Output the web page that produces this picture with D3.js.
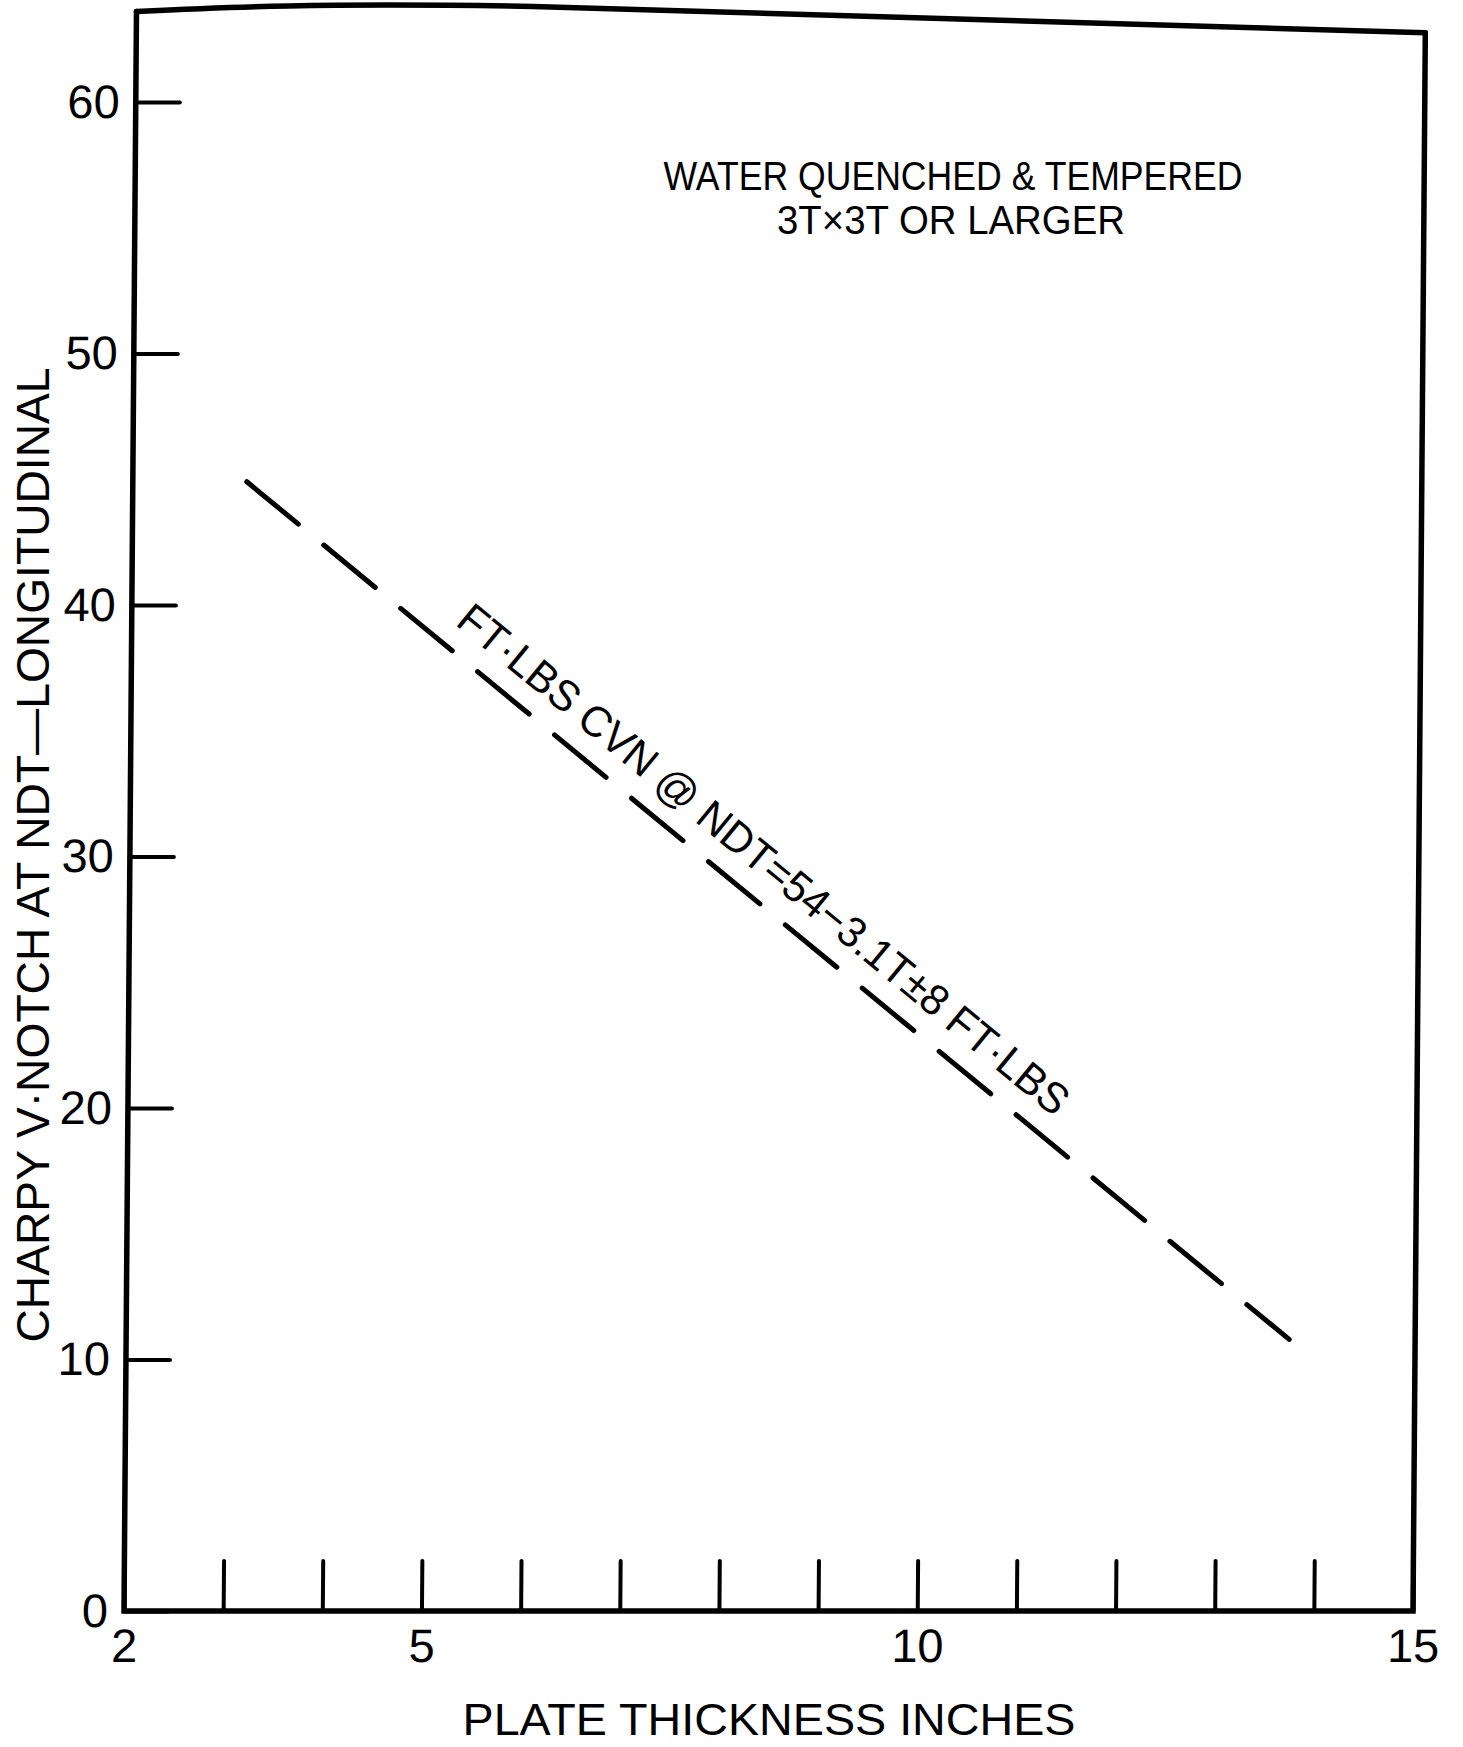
<!DOCTYPE html>
<html>
<head>
<meta charset="utf-8">
<script src="https://cdn.jsdelivr.net/npm/d3@7"></script>
<style>
  html, body { margin: 0; padding: 0; background: #fff; }
  svg { display: block; }
  text { font-family: "Liberation Sans", Arial, Helvetica, sans-serif; fill: #000; }
</style>
</head>
<body>
<svg id="chart" width="1463" height="1747"></svg>
<script>
// Trend line of Charpy V-notch energy at NDT against plate thickness
const thickness = [3.15, 13.73];      // inches
const cvn = [44.9, 10.8];             // ft-lbs

// Axis ticks and labels
const xTickValues = [2, 3, 4, 5, 6, 7, 8, 9, 10, 11, 12, 13, 14, 15];
const xLabelValues = [2, 5, 10, 15];
const yTickValues = [0, 10, 20, 30, 40, 50, 60];

// Upper edge of the hand-drawn frame (thickness, ft-lbs)
const frameTopX = [2, 6, 15];
const frameTopY = [63.6, 63.8, 62.75];

const xTitle = "PLATE THICKNESS INCHES";
const yTitle = "CHARPY V·NOTCH AT NDT—LONGITUDINAL";
const noteLines = ["WATER QUENCHED & TEMPERED", "3T×3T OR LARGER"];
const lineLabel = "FT·LBS CVN @ NDT=54−3.1T±8 FT·LBS";

const svg = d3.select("#chart");
svg.append("rect").attr("width", 1463).attr("height", 1747).attr("fill", "#fff");

const x = d3.scaleLinear().domain([2, 15]).range([124, 1413]);
const y = d3.scaleLinear().domain([0, 60]).range([1611, 102]);

// The drawing leans slightly: the frame's top sits a little right of its foot
const lean = 0.0078;
const plot = svg.append("g")
  .attr("transform", `matrix(1,0,${-lean},1,${lean * y(0)},0)`);

// Frame: left, bottom and right edges
plot.append("path")
  .attr("d", `M${x(2)},${y(frameTopY[0])} L${x(2)},${y(0)} L${x(15)},${y(0)} L${x(15)},${y(frameTopY[2])}`)
  .attr("fill", "none").attr("stroke", "#000").attr("stroke-width", 5.5)
  .attr("stroke-linejoin", "miter").attr("stroke-linecap", "round");

// Frame: top edge
plot.append("path")
  .datum(d3.zip(frameTopX, frameTopY))
  .attr("d", d3.line().x(d => x(d[0])).y(d => y(d[1])).curve(d3.curveNatural))
  .attr("fill", "none").attr("stroke", "#000").attr("stroke-width", 5.5)
  .attr("stroke-linecap", "round");

// X axis: inward ticks, labels at 2, 5, 10, 15
const xAxis = d3.axisBottom(x)
  .tickValues(xTickValues)
  .tickSizeInner(-50).tickSizeOuter(0).tickPadding(18)
  .tickFormat(d => xLabelValues.includes(d) ? d : "");
plot.append("g")
  .attr("transform", `translate(0,${y(0)})`)
  .call(xAxis)
  .call(g => g.attr("font-size", 47).attr("font-family", null))
  .call(g => g.select(".domain").remove())
  .call(g => g.selectAll(".tick line").attr("stroke-width", 4).attr("stroke-linecap", "round"))
  .call(g => g.selectAll(".tick text").attr("fill", "#000"));

// Y axis: inward ticks with labels
const yAxis = d3.axisLeft(y)
  .tickValues(yTickValues)
  .tickSizeInner(-44).tickSizeOuter(0).tickPadding(16)
  .tickFormat(d3.format("d"));
plot.append("g")
  .attr("transform", `translate(${x(2)},0)`)
  .call(yAxis)
  .call(g => g.attr("font-size", 47).attr("font-family", null))
  .call(g => g.select(".domain").remove())
  .call(g => g.selectAll(".tick line").attr("stroke-width", 4).attr("stroke-linecap", "round"))
  .call(g => g.selectAll(".tick text").attr("fill", "#000"));

// Dashed trend line
const pts = d3.zip(thickness, cvn);
plot.append("path")
  .datum(pts)
  .attr("d", d3.line().x(d => x(d[0])).y(d => y(d[1])))
  .attr("fill", "none").attr("stroke", "#000").attr("stroke-width", 5)
  .attr("stroke-dasharray", "67 33").attr("stroke-linecap", "round");

// Equation label running along the line, above it
const p0 = [x(thickness[0]), y(cvn[0])];
const p1 = [x(thickness[1]), y(cvn[1])];
const len = Math.hypot(p1[0] - p0[0], p1[1] - p0[1]);
const ux = (p1[0] - p0[0]) / len, uy = (p1[1] - p0[1]) / len;
const angle = Math.atan2(p1[1] - p0[1], p1[0] - p0[0]) * 180 / Math.PI;
const along = len / 2 - 36;
plot.append("text")
  .attr("transform", `translate(${p0[0] + ux * along},${p0[1] + uy * along}) rotate(${angle})`)
  .attr("y", -22)
  .attr("text-anchor", "middle")
  .attr("font-size", 43)
  .attr("textLength", 780)
  .attr("lengthAdjust", "spacingAndGlyphs")
  .text(lineLabel);

// Note in the upper right
const note = svg.append("g").attr("font-size", 41).attr("text-anchor", "middle");
note.append("text").attr("x", 953).attr("y", 190)
  .attr("textLength", 579).attr("lengthAdjust", "spacingAndGlyphs").text(noteLines[0]);
note.append("text").attr("x", 951).attr("y", 234)
  .attr("textLength", 348).attr("lengthAdjust", "spacingAndGlyphs").text(noteLines[1]);

// Axis titles
svg.append("text")
  .attr("x", 769).attr("y", 1735)
  .attr("text-anchor", "middle").attr("font-size", 45)
  .attr("textLength", 613).attr("lengthAdjust", "spacingAndGlyphs")
  .text(xTitle);

svg.append("text")
  .attr("transform", "translate(49,855) rotate(-90)")
  .attr("text-anchor", "middle").attr("font-size", 46)
  .attr("textLength", 975).attr("lengthAdjust", "spacingAndGlyphs")
  .text(yTitle);
</script>
</body>
</html>
